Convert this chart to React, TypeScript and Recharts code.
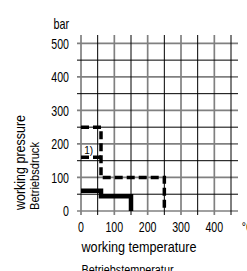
import React from 'react';
import { LineChart, Line, XAxis, YAxis, ReferenceLine, ReferenceDot, Label } from 'recharts';

// ---- data ----
const xTicks = [0, 100, 200, 300, 400, 500];
const xTickLabels = ['0', '100', '200', '300', '400', '°C'];
const yTicks = [0, 100, 200, 300, 400, 500, 560];
const yTickLabels = ['0', '100', '200', '300', '400', '500', 'bar'];

const xGridMajor = [0, 100, 200, 300, 400];
const xGridMinor = [50, 150, 250, 350, 450];
const yGridMajor = [0, 100, 200, 300, 400, 500];
const yGridMinor = [50, 150, 250, 350, 450];

const dashedTemp = [0, 60, 60, 250, 250];
const dashedPressure = [250, 250, 100, 100, 0];
const note1Temp = [0, 60];
const note1Pressure = [160, 160];
const solidTemp = [0, 60, 60, 150, 150];
const solidPressure = [60, 60, 44, 44, 0];

const xTitle = 'working temperature';
const xSubTitle = 'Betriebstemperatur';
const yTitle = 'working pressure';
const ySubTitle = 'Betriebsdruck';
const noteLabel = '1)';
const notePos = { t: 23, p: 181 };

const zip = (ts: number[], ps: number[]) => ts.map((t, i) => ({ t, p: ps[i] }));
const dashedData = zip(dashedTemp, dashedPressure);
const note1Data = zip(note1Temp, note1Pressure);
const solidData = zip(solidTemp, solidPressure);

const FONT = "'Liberation Sans Narrow','Liberation Sans',Arial,sans-serif";
const CHAR_W = 5.9;

const XTick = (props: any) => {
  const { x, y, payload } = props;
  const i = xTicks.indexOf(payload.value);
  const s = i >= 0 ? xTickLabels[i] : String(payload.value);
  return (
    <text x={x} y={y} dy="0.71em" textAnchor="middle" fontFamily={FONT} fontSize={15} fill="#000"
      textLength={s.length * CHAR_W} lengthAdjust="spacingAndGlyphs">{s}</text>
  );
};

const YTick = (props: any) => {
  const { x, y, payload } = props;
  const i = yTicks.indexOf(payload.value);
  const s = i >= 0 ? yTickLabels[i] : String(payload.value);
  return (
    <text x={x} y={y} dy="0.355em" textAnchor="end" fontFamily={FONT} fontSize={15} fill="#000"
      textLength={s.length * (s === 'bar' ? 5.2 : CHAR_W)} lengthAdjust="spacingAndGlyphs">{s}</text>
  );
};

const XTitleContent = (props: any) => {
  const { x, y } = props.viewBox;
  const left = x + 4.5;
  return (
    <g>
      <text x={left} y={y + 36.5} fontFamily={FONT} fontSize={14} fill="#000"
        textLength={115} lengthAdjust="spacingAndGlyphs">{xTitle}</text>
      <text x={left} y={y + 58.5} fontFamily={FONT} fontSize={12} fill="#000"
        textLength={92} lengthAdjust="spacingAndGlyphs">{xSubTitle}</text>
    </g>
  );
};

const YTitleContent = (props: any) => {
  const { y, height } = props.viewBox;
  const bottom = y + height - 5;
  return (
    <g>
      <text transform={`translate(24.5, ${bottom}) rotate(-90)`} fontFamily={FONT} fontSize={14} fill="#000"
        textLength={95} lengthAdjust="spacingAndGlyphs">{yTitle}</text>
      <text transform={`translate(38.5, ${bottom}) rotate(-90)`} fontFamily={FONT} fontSize={13} fill="#000"
        textLength={68} lengthAdjust="spacingAndGlyphs">{ySubTitle}</text>
    </g>
  );
};

export default function App() {
  return (
    <div style={{ position: 'absolute', left: 0, top: 0, background: '#fff' }}>
      <LineChart width={247} height={271} margin={{ top: 35, right: 9, bottom: 0, left: 0 }}>
        <XAxis type="number" dataKey="t" domain={[-12, 471]} allowDataOverflow ticks={xTicks} interval={0}
          tick={<XTick />} tickLine={false} axisLine={false} tickMargin={0} height={56}>
          <Label content={<XTitleContent />} />
        </XAxis>
        <YAxis type="number" dataKey="p" domain={[-12, 525]} allowDataOverflow ticks={yTicks} interval={0}
          tick={<YTick />} tickLine={false} axisLine={false} width={77}>
          <Label content={<YTitleContent />} />
        </YAxis>
        {yGridMajor.map((v) => (
          <ReferenceLine key={'ym' + v} y={v} stroke="#808080" strokeWidth={1.7} />
        ))}
        {xGridMajor.map((v) => (
          <ReferenceLine key={'xm' + v} x={v} stroke="#808080" strokeWidth={1.7} />
        ))}
        {yGridMinor.map((v) => (
          <ReferenceLine key={'yn' + v} y={v} stroke="#000" strokeWidth={1} />
        ))}
        {xGridMinor.map((v) => (
          <ReferenceLine key={'xn' + v} x={v} stroke="#000" strokeWidth={1} />
        ))}
        <Line data={solidData} dataKey="p" type="linear" stroke="#000" strokeWidth={4.5}
          dot={false} activeDot={false} isAnimationActive={false} strokeLinejoin="miter" />
        <Line data={dashedData} dataKey="p" type="linear" stroke="#000" strokeWidth={3.5} strokeDasharray="8 4"
          dot={false} activeDot={false} isAnimationActive={false} strokeLinejoin="miter" />
        <Line data={note1Data} dataKey="p" type="linear" stroke="#000" strokeWidth={3.5} strokeDasharray="8 4"
          dot={false} activeDot={false} isAnimationActive={false} />
        <ReferenceDot x={notePos.t} y={notePos.p} r={0} stroke="none" fill="none"
          label={{ value: noteLabel, position: 'center', fontFamily: FONT, fontSize: 10, fill: '#000' }} />
      </LineChart>
    </div>
  );
}
